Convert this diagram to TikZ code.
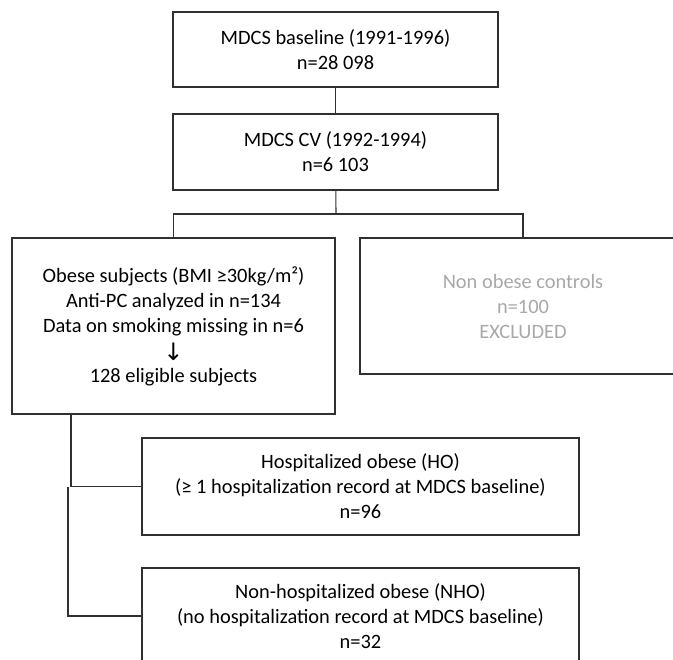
\documentclass[tikz,border=0pt]{standalone}
\usepackage{fontspec}
\setmainfont{Carlito}
\newfontfamily\arrowfont{DejaVu Sans}
\definecolor{linec}{HTML}{303030}
\definecolor{greytext}{HTML}{A8A8A8}
\newcommand{\bigdownarrow}{{\arrowfont\fontsize{24}{25}\selectfont\raisebox{-3pt}{↓}}}
\begin{document}
\begin{tikzpicture}[x=1pt,y=-1pt,
  every node/.style={font=\fontsize{20.4}{25}\selectfont, text=black},
  flowbox/.style={draw=linec, line width=1.1pt, align=center, inner sep=0pt},
  conn/.style={draw=linec, line width=1.1pt}]
\useasboundingbox (0,0) rectangle (673,660);
\node[flowbox, minimum width=325, minimum height=75] (base) at (335.5,49.5)
  {MDCS baseline (1991-1996)\\n=28 098};
\node[flowbox, minimum width=325, minimum height=76] (cv) at (335.5,152)
  {MDCS CV (1992-1994)\\n=6 103};
\node[flowbox, minimum width=323, minimum height=176] (obese) at (173.5,326)
  {Obese subjects (BMI ≥30kg/m²)\\Anti-PC analyzed in n=134\\Data on smoking missing in n=6\\\bigdownarrow\\128 eligible subjects};
\node[flowbox, minimum width=326, minimum height=136, text=greytext] (nonobese) at (523,306)
  {Non obese controls\\n=100\\EXCLUDED};
\node[flowbox, minimum width=437, minimum height=97] (ho) at (360.5,486.5)
  {Hospitalized obese (HO)\\(≥ 1 hospitalization record at MDCS baseline)\\n=96};
\node[flowbox, minimum width=437, minimum height=96] (nho) at (360.5,616)
  {Non-hospitalized obese (NHO)\\(no hospitalization record at MDCS baseline)\\n=32};
\coordinate (split) at (336,214);
\coordinate (j1) at (71,414);
\coordinate (j2) at (68,487);
\draw[conn] (base) -- (cv);
\draw[conn] (cv) -- (split);
\draw[conn] (split) -| (obese.north);
\draw[conn] (split) -| (nonobese.north);
\draw[conn] (j1) |- (ho.west);
\draw[conn] (j2) |- (nho.west);
\end{tikzpicture}
\end{document}
